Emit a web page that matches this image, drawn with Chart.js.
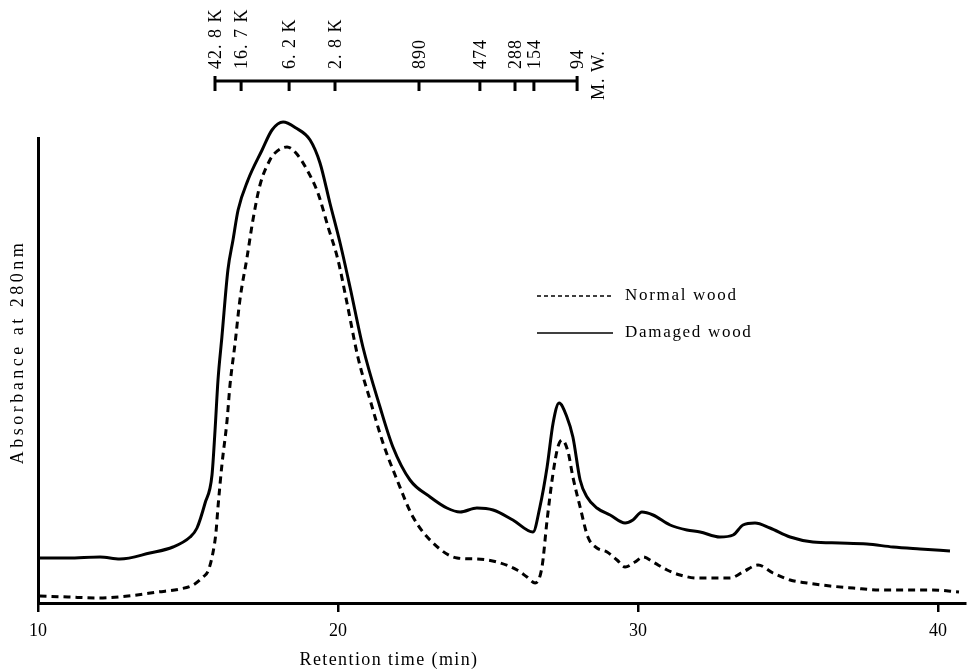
<!DOCTYPE html>
<html lang="en">
<head>
  <meta charset="UTF-8" />
  <title>Retention time chromatogram</title>
  <script src="https://cdn.jsdelivr.net/npm/chart.js"></script>
  <style>
    body {
      margin: 0;
      background: #fff;
    }
    .chart-wrapper {
      width: 969px;
      height: 670px;
    }
  </style>
</head>
<body>
  <div class="chart-wrapper">
    <canvas id="gpcChart"></canvas>
  </div>

  <script>
    // Normal wood (dashed)
    const normalTime = [10.05, 11, 12, 13, 14, 14.73, 15.17, 15.5, 15.67, 15.83, 15.93, 16.0, 16.13, 16.3, 16.4, 16.57, 16.73, 16.97, 17.17, 17.4, 17.73, 17.9, 18.3, 18.6, 18.97, 19.33, 19.67, 20.0, 20.3, 20.67, 21.07, 21.5, 21.97, 22.5, 23.17, 23.97, 24.63, 25.3, 25.97, 26.3, 26.57, 26.8, 26.97, 27.17, 27.33, 27.47, 27.67, 27.83, 28.07, 28.33, 28.63, 28.97, 29.3, 29.57, 29.9, 30.17, 30.5, 30.97, 31.4, 31.97, 32.63, 33.07, 33.5, 34.0, 34.5, 35.07, 35.63, 36.4, 37.17, 38.07, 38.97, 39.83, 40.7];
    const normalAbs = [7, 6, 5, 7, 11, 14, 18, 26, 32, 50, 70, 96, 138, 182, 218, 260, 303, 346, 384, 418, 443, 450, 456, 450, 433, 410, 376, 343, 300, 245, 203, 160, 123, 86, 60, 45, 44, 41, 33, 26, 20, 36, 83, 130, 156, 163, 151, 126, 96, 66, 55, 51, 43, 36, 41, 46, 41, 33, 28, 25, 25, 25, 31, 38, 30, 23, 20, 17, 15, 13, 13, 13, 11];

    // Damaged wood (solid)
    const damagedTime = [10.05, 11, 12.07, 12.73, 13.73, 14.5, 15.07, 15.3, 15.57, 15.8, 15.9, 16.0, 16.13, 16.33, 16.5, 16.67, 17.0, 17.47, 17.8, 18.17, 18.6, 19.07, 19.4, 19.73, 20.07, 20.4, 20.83, 21.4, 21.83, 22.4, 23.07, 23.63, 24.07, 24.63, 25.17, 25.83, 26.5, 26.73, 26.97, 27.17, 27.37, 27.63, 27.83, 28.07, 28.3, 28.63, 29.07, 29.57, 29.83, 30.13, 30.5, 31.07, 31.63, 32.07, 32.73, 33.17, 33.5, 33.9, 34.4, 35.07, 35.83, 36.73, 37.63, 38.5, 39.4, 40.4];
    const damagedAbs = [45, 45, 46, 44, 50, 56, 66, 75, 100, 128, 172, 223, 266, 333, 363, 393, 423, 453, 473, 481, 475, 463, 440, 400, 360, 316, 256, 196, 156, 123, 106, 95, 91, 95, 93, 83, 71, 96, 136, 180, 200, 186, 166, 123, 106, 95, 88, 80, 83, 91, 88, 78, 73, 71, 66, 68, 78, 80, 75, 66, 61, 60, 59, 56, 54, 52];

    const xTickValues = [10, 20, 30, 40];

    // molecular weight markers on the top scale
    const mwLabels = ['42. 8 K', '16. 7 K', '6. 2 K', '2. 8 K', '890', '474', '288', '154', '94'];
    const mwTimes = [15.9, 16.77, 18.37, 19.9, 22.7, 24.73, 25.9, 26.53, 27.97];

    const serif = "'Liberation Serif', 'DejaVu Serif', serif";

    const toPoints = (xs, ys) => xs.map((x, i) => ({ x: x, y: ys[i] }));

    const extrasPlugin = {
      id: 'extras',
      afterDraw(chart) {
        const ctx = chart.ctx;
        const xs = chart.scales.x;
        ctx.save();
        ctx.fillStyle = '#000';
        ctx.strokeStyle = '#000';

        // top molecular weight scale
        const lineY = 81;
        const px = mwTimes.map(t => xs.getPixelForValue(t));
        ctx.lineWidth = 3;
        ctx.beginPath();
        ctx.moveTo(px[0], lineY);
        ctx.lineTo(px[px.length - 1], lineY);
        ctx.stroke();
        px.forEach((p, i) => {
          const end = (i === 0 || i === px.length - 1);
          ctx.beginPath();
          ctx.moveTo(p, end ? lineY - 5 : lineY);
          ctx.lineTo(p, lineY + 10);
          ctx.stroke();
        });
        ctx.font = '18px ' + serif;
        ctx.letterSpacing = '1px';
        ctx.textAlign = 'left';
        ctx.textBaseline = 'middle';
        px.forEach((p, i) => {
          ctx.save();
          ctx.translate(p + 1, lineY - 12);
          ctx.rotate(-Math.PI / 2);
          ctx.fillText(mwLabels[i], 0, 0);
          ctx.restore();
        });
        ctx.save();
        ctx.translate(px[px.length - 1] + 22, lineY + 19);
        ctx.rotate(-Math.PI / 2);
        ctx.fillText('M. W.', 0, 0);
        ctx.restore();

        // y axis title
        ctx.save();
        ctx.font = '18px ' + serif;
        ctx.letterSpacing = '3.5px';
        ctx.textAlign = 'center';
        ctx.translate(18, 352);
        ctx.rotate(-Math.PI / 2);
        ctx.fillText('Absorbance at 280nm', 0, 0);
        ctx.restore();

        // x axis title
        ctx.save();
        ctx.font = '18px ' + serif;
        ctx.letterSpacing = '1.4px';
        ctx.textAlign = 'center';
        ctx.fillText('Retention time (min)', 389, 660);
        ctx.restore();

        // legend
        ctx.font = '17px ' + serif;
        ctx.letterSpacing = '1.7px';
        ctx.textAlign = 'left';
        ctx.lineWidth = 1.5;
        ctx.setLineDash([4, 3]);
        ctx.beginPath();
        ctx.moveTo(537, 296);
        ctx.lineTo(613, 296);
        ctx.stroke();
        ctx.setLineDash([]);
        ctx.beginPath();
        ctx.moveTo(537, 333);
        ctx.lineTo(613, 333);
        ctx.stroke();
        ctx.fillText('Normal wood', 625, 296);
        ctx.fillText('Damaged wood', 625, 333);
        ctx.restore();
      }
    };

    new Chart(document.getElementById('gpcChart').getContext('2d'), {
      type: 'line',
      data: {
        datasets: [
          {
            label: 'Normal wood',
            data: toPoints(normalTime, normalAbs),
            borderColor: '#000',
            borderWidth: 3,
            borderDash: [7, 5],
            pointRadius: 0,
            cubicInterpolationMode: 'monotone',
            clip: false
          },
          {
            label: 'Damaged wood',
            data: toPoints(damagedTime, damagedAbs),
            borderColor: '#000',
            borderWidth: 3,
            pointRadius: 0,
            cubicInterpolationMode: 'monotone',
            clip: false
          }
        ]
      },
      options: {
        responsive: true,
        maintainAspectRatio: false,
        animation: false,
        layout: { padding: { top: 138, right: 4, left: 0, bottom: 0 } },
        plugins: {
          legend: { display: false },
          tooltip: { enabled: false }
        },
        scales: {
          x: {
            type: 'linear',
            min: 10,
            max: 40.9,
            afterBuildTicks: scale => {
              scale.ticks = xTickValues.map(v => ({ value: v }));
            },
            afterFit: scale => { scale.height = 67; },
            grid: {
              display: true,
              drawOnChartArea: false,
              drawTicks: true,
              tickLength: 9,
              color: '#000',
              lineWidth: 2.5
            },
            border: { display: true, color: '#000', width: 3 },
            ticks: {
              padding: 8,
              color: '#000',
              font: { family: serif, size: 18 },
              maxRotation: 0
            }
          },
          y: {
            min: 0,
            max: 465,
            afterFit: scale => { scale.width = 38; },
            grid: { display: false },
            border: { display: true, color: '#000', width: 3 },
            ticks: { display: false }
          }
        }
      },
      plugins: [extrasPlugin]
    });
  </script>
</body>
</html>
